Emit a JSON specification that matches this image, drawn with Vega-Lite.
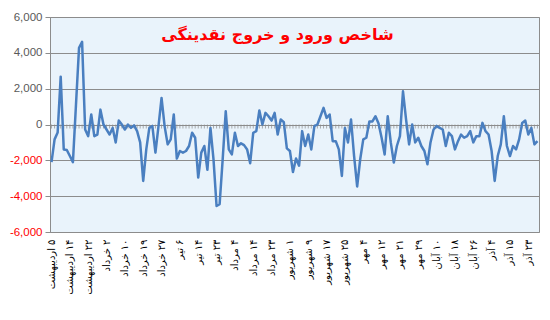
{
  "$schema": "https://vega.github.io/schema/vega-lite/v6.json",
  "width": 489,
  "height": 215,
  "autosize": {"type": "none"},
  "padding": {"left": 50, "top": 17, "right": 11, "bottom": 88},
  "background": "white",
  "config": {
    "view": {"fill": "#e9f3fb", "stroke": "#8c8c8c", "strokeWidth": 1},
    "axisX": {
      "labelAngle": 270,
      "labelFont": "DejaVu Sans",
      "labelFontSize": 10,
      "labelColor": "#000000",
      "labelPadding": 7,
      "labelOverlap": false,
      "labelFlush": false,
      "labelBound": false,
      "domain": false,
      "ticks": false,
      "grid": false
    },
    "axisY": {
      "labelFont": "Liberation Sans",
      "labelFontSize": 11.5,
      "labelPadding": 3,
      "labelOverlap": false,
      "tickSize": 5,
      "tickColor": "#8c8c8c",
      "domainColor": "#8c8c8c",
      "gridColor": "#8c8c8c",
      "gridWidth": 1,
      "grid": true
    }
  },
  "title": {
    "text": "شاخص ورود و خروج نقدینگی",
    "color": "#ff0000",
    "font": "DejaVu Sans",
    "fontSize": 16,
    "fontWeight": "bold",
    "anchor": "middle",
    "offset": -32,
    "dx": -17
  },
  "data": {"values": [
    {"i":0,"v":-2100},{"i":1,"v":-830},{"i":2,"v":-450},{"i":3,"v":2670},{"i":4,"v":-1390},
    {"i":5,"v":-1420},{"i":6,"v":-1760},{"i":7,"v":-2100},{"i":8,"v":1100},{"i":9,"v":4280},
    {"i":10,"v":4610},{"i":11,"v":-280},{"i":12,"v":-650},{"i":13,"v":560},{"i":14,"v":-650},
    {"i":15,"v":-560},{"i":16,"v":830},{"i":17,"v":0},{"i":18,"v":-280},{"i":19,"v":-560},
    {"i":20,"v":-190},{"i":21,"v":-1000},{"i":22,"v":220},{"i":23,"v":0},{"i":24,"v":-280},
    {"i":25,"v":0},{"i":26,"v":-190},{"i":27,"v":-50},{"i":28,"v":-370},{"i":29,"v":-1000},
    {"i":30,"v":-3150},{"i":31,"v":-1390},{"i":32,"v":-190},{"i":33,"v":-90},{"i":34,"v":-1570},
    {"i":35,"v":-90},{"i":36,"v":1480},{"i":37,"v":-90},{"i":38,"v":-1110},{"i":39,"v":-830},
    {"i":40,"v":560},{"i":41,"v":-1900},{"i":42,"v":-1480},{"i":43,"v":-1570},{"i":44,"v":-1480},
    {"i":45,"v":-1200},{"i":46,"v":-460},{"i":47,"v":-740},{"i":48,"v":-2960},{"i":49,"v":-1570},
    {"i":50,"v":-1200},{"i":51,"v":-2530},{"i":52,"v":-190},{"i":53,"v":-1950},{"i":54,"v":-4550},
    {"i":55,"v":-4450},{"i":56,"v":-1950},{"i":57,"v":740},{"i":58,"v":-1390},{"i":59,"v":-1670},
    {"i":60,"v":-460},{"i":61,"v":-1200},{"i":62,"v":-1050},{"i":63,"v":-1150},{"i":64,"v":-1390},
    {"i":65,"v":-2160},{"i":66,"v":-460},{"i":67,"v":-370},{"i":68,"v":780},{"i":69,"v":0},
    {"i":70,"v":650},{"i":71,"v":460},{"i":72,"v":220},{"i":73,"v":650},{"i":74,"v":-560},
    {"i":75,"v":280},{"i":76,"v":130},{"i":77,"v":-1330},{"i":78,"v":-1480},{"i":79,"v":-2650},
    {"i":80,"v":-1900},{"i":81,"v":-2300},{"i":82,"v":-370},{"i":83,"v":-1200},{"i":84,"v":-560},
    {"i":85,"v":-1390},{"i":86,"v":-90},{"i":87,"v":0},{"i":88,"v":460},{"i":89,"v":930},
    {"i":90,"v":370},{"i":91,"v":560},{"i":92,"v":-930},{"i":93,"v":-930},{"i":94,"v":-1390},
    {"i":95,"v":-2870},{"i":96,"v":-190},{"i":97,"v":-1000},{"i":98,"v":280},{"i":99,"v":-1760},
    {"i":100,"v":-3460},{"i":101,"v":-1940},{"i":102,"v":-830},{"i":103,"v":-740},{"i":104,"v":170},
    {"i":105,"v":170},{"i":106,"v":460},{"i":107,"v":60},{"i":108,"v":-740},{"i":109,"v":-1670},
    {"i":110,"v":460},{"i":111,"v":-1000},{"i":112,"v":-2120},{"i":113,"v":-1200},{"i":114,"v":-650},
    {"i":115,"v":1850},{"i":116,"v":280},{"i":117,"v":-1110},{"i":118,"v":0},{"i":119,"v":-1000},
    {"i":120,"v":-740},{"i":121,"v":-1200},{"i":122,"v":-1480},{"i":123,"v":-2220},{"i":124,"v":-1000},
    {"i":125,"v":-280},{"i":126,"v":-90},{"i":127,"v":-190},{"i":128,"v":-280},{"i":129,"v":-1200},
    {"i":130,"v":-460},{"i":131,"v":-650},{"i":132,"v":-1390},{"i":133,"v":-930},{"i":134,"v":-560},
    {"i":135,"v":-740},{"i":136,"v":-650},{"i":137,"v":-370},{"i":138,"v":-1000},{"i":139,"v":-650},
    {"i":140,"v":-650},{"i":141,"v":90},{"i":142,"v":-370},{"i":143,"v":-560},{"i":144,"v":-1480},
    {"i":145,"v":-3150},{"i":146,"v":-1760},{"i":147,"v":-1110},{"i":148,"v":460},{"i":149,"v":-1200},
    {"i":150,"v":-1760},{"i":151,"v":-1200},{"i":152,"v":-1390},{"i":153,"v":-830},{"i":154,"v":90},
    {"i":155,"v":220},{"i":156,"v":-560},{"i":157,"v":-190},{"i":158,"v":-1110},{"i":159,"v":-930}
  ]},
  "layer": [
    {
      "mark": {"type": "tick", "orient": "vertical", "color": "#8c8c8c", "size": 4, "thickness": 1, "yOffset": 2},
      "encoding": {
        "x": {
          "field": "i", "type": "quantitative",
          "scale": {"domain": [-0.5, 159.5], "nice": false, "zero": false},
          "axis": {
            "title": null,
            "values": [0,6,12,18,24,30,36,42,48,54,60,66,72,78,84,90,96,102,108,114,120,126,132,138,144,150,156],
            "labelExpr": "'\u200f' + ['۵ اردیبهشت','۱۴ اردیبهشت','۲۲ اردیبهشت','۲ خرداد','۱۰ خرداد','۱۹ خرداد','۲۷ خرداد','۶ تیر','۱۴ تیر','۲۳ تیر','۴ مرداد','۱۴ مرداد','۲۳ مرداد','۱ شهریور','۹ شهریور','۱۷ شهریور','۲۵ شهریور','۴ مهر','۱۲ مهر','۲۱ مهر','۲۹ مهر','۱۰ آبان','۱۸ آبان','۲۶ آبان','۴ آذر','۱۵ آذر','۲۳ آذر'][round(datum.value / 6)]"
          }
        },
        "y": {
          "datum": 0, "type": "quantitative",
          "scale": {"domain": [-6000, 6000], "nice": false},
          "axis": {
            "title": null,
            "values": [-6000, -4000, -2000, 0, 2000, 4000, 6000],
            "format": ",d",
            "labelExpr": "replace(datum.label, '\u2212', '-')",
            "labelColor": {"condition": {"test": "datum.value < 0", "value": "#ff0000"}, "value": "#595959"}
          }
        }
      }
    },
    {
      "mark": {"type": "line", "color": "#4a7fc0", "strokeWidth": 2.5, "strokeJoin": "round"},
      "encoding": {
        "x": {
          "field": "i", "type": "quantitative",
          "scale": {"domain": [-0.5, 159.5], "nice": false, "zero": false},
          "axis": {
            "title": null,
            "values": [0,6,12,18,24,30,36,42,48,54,60,66,72,78,84,90,96,102,108,114,120,126,132,138,144,150,156],
            "labelExpr": "'\u200f' + ['۵ اردیبهشت','۱۴ اردیبهشت','۲۲ اردیبهشت','۲ خرداد','۱۰ خرداد','۱۹ خرداد','۲۷ خرداد','۶ تیر','۱۴ تیر','۲۳ تیر','۴ مرداد','۱۴ مرداد','۲۳ مرداد','۱ شهریور','۹ شهریور','۱۷ شهریور','۲۵ شهریور','۴ مهر','۱۲ مهر','۲۱ مهر','۲۹ مهر','۱۰ آبان','۱۸ آبان','۲۶ آبان','۴ آذر','۱۵ آذر','۲۳ آذر'][round(datum.value / 6)]"
          }
        },
        "y": {
          "field": "v", "type": "quantitative",
          "scale": {"domain": [-6000, 6000], "nice": false},
          "axis": {
            "title": null,
            "values": [-6000, -4000, -2000, 0, 2000, 4000, 6000],
            "format": ",d",
            "labelExpr": "replace(datum.label, '\u2212', '-')",
            "labelColor": {"condition": {"test": "datum.value < 0", "value": "#ff0000"}, "value": "#595959"}
          }
        }
      }
    }
  ]
}
